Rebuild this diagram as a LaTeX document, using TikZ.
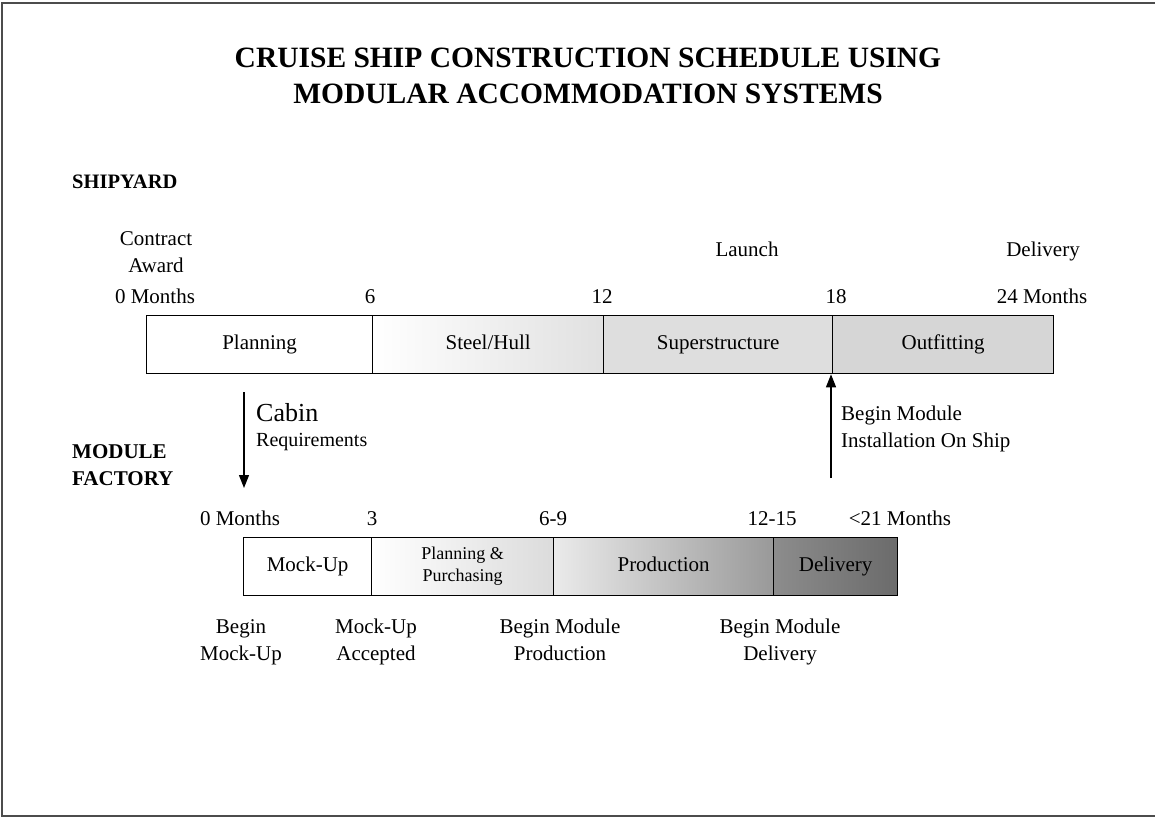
\documentclass[tikz,border=0pt]{standalone}
\usepackage{fontspec}
\setmainfont{Liberation Serif}
\usetikzlibrary{arrows.meta}
\tikzset{
  segbox/.style={draw=black, line width=1.3pt, anchor=north west, minimum height=58pt, inner sep=0pt, font=\fontsize{21}{24}\selectfont},
  seg/.style={segbox, text height=14pt, text depth=5pt},
  lbl/.style={anchor=base, inner sep=0pt, font=\fontsize{21}{24}\selectfont},
  hdr/.style={anchor=base west, inner sep=0pt, font=\bfseries\fontsize{20.5}{24}\selectfont},
  ttl/.style={anchor=base, inner sep=0pt, font=\bfseries\fontsize{29.5}{34}\selectfont},
  flow/.style={line width=1.3pt, -{Triangle[length=13pt,width=10pt]}}
}
\begin{document}
\begin{tikzpicture}[x=1pt,y=-1pt]
\useasboundingbox (0,0) rectangle (1155,817);
\fill[white] (0,0) rectangle (1155,817);
\draw[line width=1.5pt, black!70] (1155,3) -- (2,3) -- (2,816) -- (1155,816);

% title
\node[ttl] (t1) at (588,67) {CRUISE SHIP CONSTRUCTION SCHEDULE USING};
\node[ttl] (t2) at (588,103) {MODULAR ACCOMMODATION SYSTEMS};

% shipyard
\node[hdr] (sy) at (72,188) {SHIPYARD};
\node[lbl] (ca1) at (156,245) {Contract};
\node[lbl] (ca2) at (156,272) {Award};
\node[lbl] (lau) at (747,256) {Launch};
\node[lbl] (del) at (1043,256) {Delivery};
\node[lbl] (m0) at (155,303) {0 Months};
\node[lbl] (m6) at (370,303) {6};
\node[lbl] (m12) at (602,303) {12};
\node[lbl] (m18) at (836,303) {18};
\node[lbl] (m24) at (1042,303) {24 Months};

\node[seg, minimum width=226pt] (plan) at (146,315) {Planning};
\node[seg, minimum width=231pt, left color=white, right color=black!12] (steel) at (372,315) {Steel/Hull};
\node[seg, minimum width=229pt, fill=black!13] (sup) at (603,315) {Superstructure};
\node[seg, minimum width=221pt, fill=black!16] (out) at (832,315) {Outfitting};

% module factory
\node[hdr, font=\bfseries\fontsize{21}{24}\selectfont] (mf1) at (72,458) {MODULE};
\node[hdr, font=\bfseries\fontsize{21}{24}\selectfont] (mf2) at (72,485) {FACTORY};

\coordinate (dA) at (244,392);
\coordinate (dB) at (244,488);
\draw[flow] (dA) -- (dB);
\node[anchor=base west, inner sep=0pt, font=\fontsize{26}{30}\selectfont] (cab) at (256,421) {Cabin};
\node[anchor=base west, inner sep=0pt, font=\fontsize{20}{24}\selectfont] (req) at (256,446) {Requirements};

\coordinate (uA) at (831,478);
\draw[flow] (uA) -- (uA |- out.south);
\node[anchor=base west, inner sep=0pt, font=\fontsize{21}{24}\selectfont] (bm1) at (841,420) {Begin Module};
\node[anchor=base west, inner sep=0pt, font=\fontsize{21}{24}\selectfont] (bm2) at (841,447) {Installation On Ship};

\node[lbl] (f0) at (240,525) {0 Months};
\node[lbl] (f3) at (372,525) {3};
\node[lbl] (f69) at (553,525) {6-9};
\node[lbl] (f1215) at (772,525) {12-15};
\node[lbl] (f21) at (900,525) {<21 Months};

\node[seg, minimum width=128pt] (mock) at (243,537) {Mock-Up};
\node[segbox, minimum width=182pt, left color=white, right color=black!14, align=center, font=\fontsize{18}{22}\selectfont] (pp) at (371,537) {Planning \&\\Purchasing};
\node[seg, minimum width=220pt, left color=black!8, right color=black!40] (prod) at (553,537) {Production};
\node[seg, minimum width=124pt, left color=black!45, right color=black!58] (fdel) at (773,537) {Delivery};

\node[lbl] (b1a) at (241,633) {Begin};
\node[lbl] (b1b) at (241,660) {Mock-Up};
\node[lbl] (b2a) at (376,633) {Mock-Up};
\node[lbl] (b2b) at (376,660) {Accepted};
\node[lbl] (b3a) at (560,633) {Begin Module};
\node[lbl] (b3b) at (560,660) {Production};
\node[lbl] (b4a) at (780,633) {Begin Module};
\node[lbl] (b4b) at (780,660) {Delivery};
\end{tikzpicture}
\end{document}
